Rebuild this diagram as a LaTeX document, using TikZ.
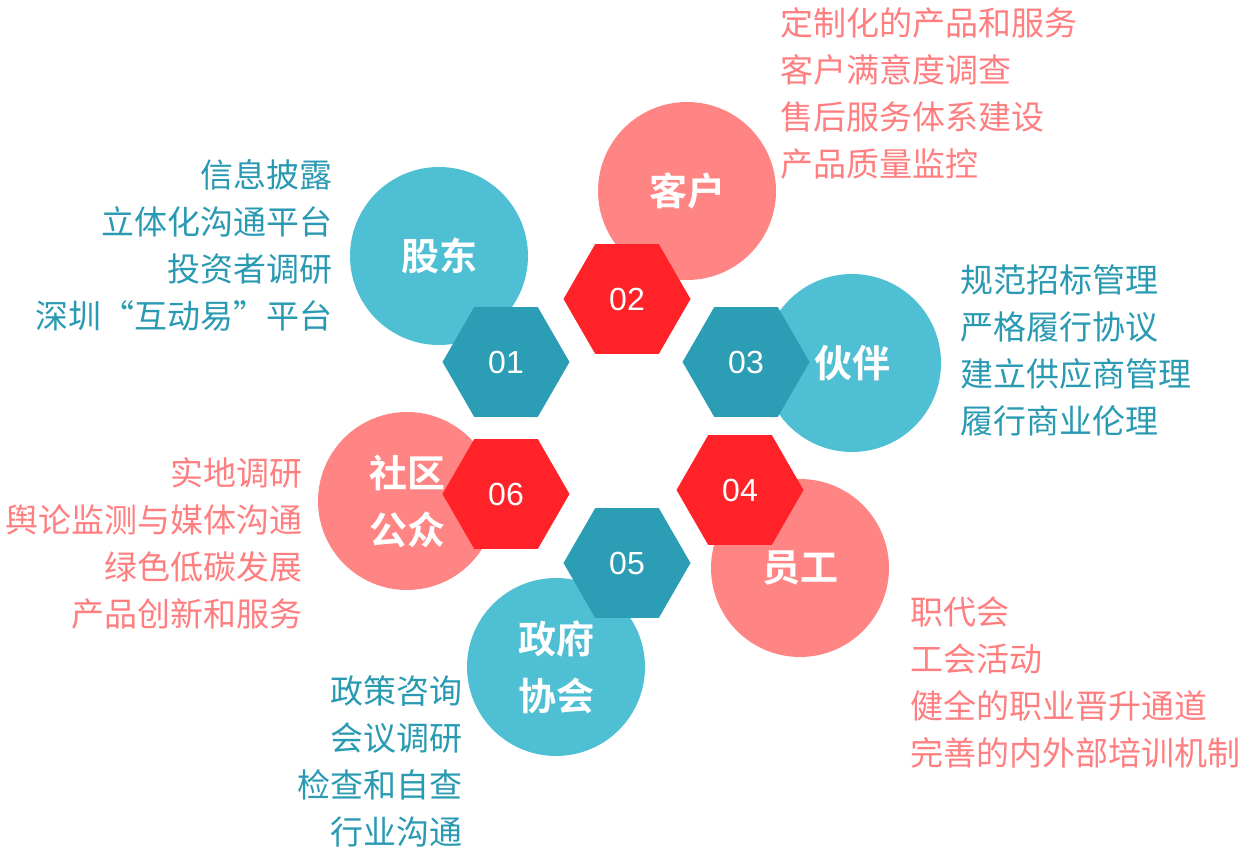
\documentclass[tikz,border=0pt]{standalone}
\usepackage{fontspec}
\usetikzlibrary{shapes.geometric}
\newfontfamily\cjk[BoldFont={Noto Sans CJK SC Bold}]{Noto Sans CJK SC}
\newfontfamily\numfont{Liberation Sans}
\definecolor{lteal}{HTML}{4FBFD4}
\definecolor{dteal}{HTML}{2B9DB4}
\definecolor{lpink}{HTML}{FF8585}
\definecolor{hred}{HTML}{FF2228}
\definecolor{tealtxt}{HTML}{2A9AB3}
\definecolor{pinktxt}{HTML}{FF7F80}
\begin{document}
\begin{tikzpicture}[x=1pt, y=-1pt, line join=round,
	bubble/.style={circle, minimum size=178pt, inner sep=0pt, fill=#1, text=white, align=center, font=\cjk\bfseries\fontsize{38}{57}\selectfont},
	hexa/.style={regular polygon, regular polygon sides=6, minimum size=127pt, inner sep=0pt, fill=#1, text=white, font=\numfont\fontsize{32}{34}\selectfont},
	listr/.style={anchor=east, align=right, inner sep=0pt, text=#1, font=\cjk\fontsize{33}{47}\selectfont},
	listl/.style={anchor=west, align=left, inner sep=0pt, text=#1, font=\cjk\fontsize{33}{47}\selectfont}]
	\useasboundingbox (0,0) rectangle (1249,850);
	% bubbles
	\node[bubble=lteal] (gudong) at (439,256) {股东};
	\node[bubble=lpink] (kehu) at (687,191) {客户};
	\node[bubble=lteal] (huoban) at (852,363) {伙伴};
	\node[bubble=lpink] (yuangong) at (800,568) {员工};
	\node[bubble=lteal] (zhengfu) at (556,667) {政府\\协会};
	\node[bubble=lpink] (shequ) at (407,501) {社区\\公众};
	% hexagons
	\node[hexa=dteal] (h1) at (506,362) {01};
	\node[hexa=hred] (h2) at (627,299) {02};
	\node[hexa=dteal] (h3) at (746,362) {03};
	\node[hexa=hred] (h4) at (740,490) {04};
	\node[hexa=dteal] (h5) at (627,563) {05};
	\node[hexa=hred] (h6) at (506,494) {06};
	% lists
	\node[listr=tealtxt] (lgudong) at (333,245) {信息披露\\立体化沟通平台\\投资者调研\\深圳“互动易”平台};
	\node[listl=pinktxt] (lkehu) at (780,93) {定制化的产品和服务\\客户满意度调查\\售后服务体系建设\\产品质量监控};
	\node[listl=tealtxt] (lhuoban) at (960,350) {规范招标管理\\严格履行协议\\建立供应商管理\\履行商业伦理};
	\node[listl=pinktxt] (lyuangong) at (910,682) {职代会\\工会活动\\健全的职业晋升通道\\完善的内外部培训机制};
	\node[listr=tealtxt] (lzhengfu) at (463,761) {政策咨询\\会议调研\\检查和自查\\行业沟通};
	\node[listr=pinktxt] (lshequ) at (303,543) {实地调研\\舆论监测与媒体沟通\\绿色低碳发展\\产品创新和服务};
\end{tikzpicture}
\end{document}
